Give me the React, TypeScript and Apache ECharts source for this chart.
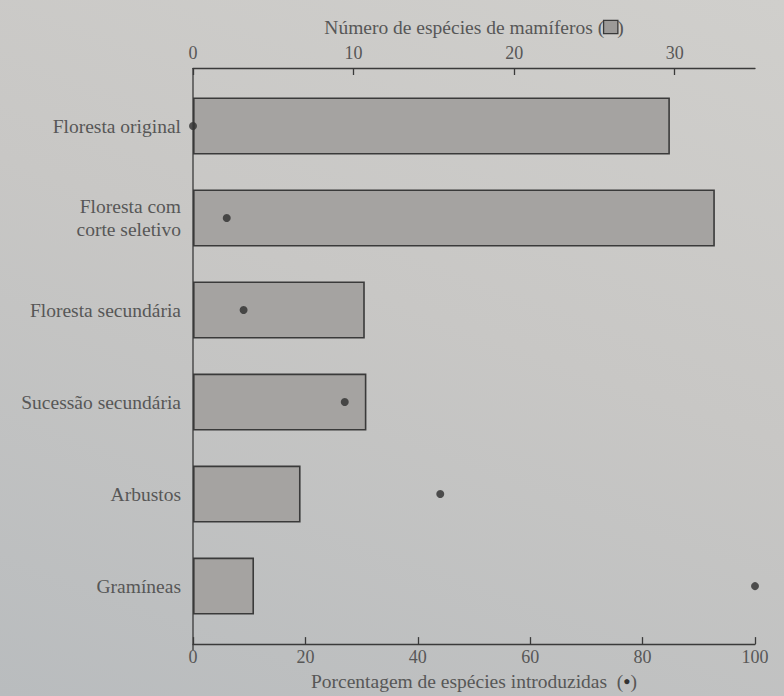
import React, { useEffect, useRef } from "react";
import * as echarts from "echarts";

const categories = [
  "Floresta original",
  "Floresta com\ncorte seletivo",
  "Floresta secundária",
  "Sucessão secundária",
  "Arbustos",
  "Gramíneas",
];
const mammalSpecies = [29.7, 32.5, 10.7, 10.8, 6.7, 3.8];
const introducedPct = [0, 6, 9, 27, 44, 100];
const topTicks = [0, 10, 20, 30];
const bottomTicks = [0, 20, 40, 60, 80, 100];

const GRID_LEFT = 193;
const GRID_RIGHT = 29;
const GRID_TOP = 80;
const GRID_BOTTOM = 58;
const AXIS_OFFSET = 12;
const W = 784;
const H = 696;

const FONT = "Liberation Serif";
const TEXT = "#575757";
const LINE = "#3a3a3a";

export default function App() {
  const ref = useRef<HTMLDivElement>(null);
  useEffect(() => {
    if (!ref.current) return;
    const chart = echarts.init(ref.current, undefined, { renderer: "svg" });
    chart.setOption({
      animation: false,
      backgroundColor: "transparent",
      textStyle: { fontFamily: FONT, color: TEXT },
      grid: { left: GRID_LEFT, right: GRID_RIGHT, top: GRID_TOP, bottom: GRID_BOTTOM },
      xAxis: [
        {
          type: "value",
          position: "top",
          offset: AXIS_OFFSET,
          min: 0,
          max: 35,
          interval: 10,
          axisLine: { show: true, lineStyle: { color: LINE, width: 1.3 } },
          axisTick: { show: true, inside: true, length: 7, customValues: topTicks, lineStyle: { color: LINE, width: 1.3 } },
          axisLabel: { customValues: topTicks, fontFamily: FONT, fontSize: 18, color: TEXT, margin: 6 },
          splitLine: { show: false },
          name: "Número de espécies de mamíferos ({box| })",
          nameLocation: "middle",
          nameGap: 31,
          nameTextStyle: {
            fontFamily: FONT,
            fontSize: 19.5,
            color: TEXT,
            rich: {
              box: { width: 13, height: 12, backgroundColor: "#9c9a98", borderColor: LINE, borderWidth: 1.3 },
            },
          },
        },
        {
          type: "value",
          position: "bottom",
          offset: AXIS_OFFSET,
          min: 0,
          max: 100,
          interval: 20,
          axisLine: { show: true, lineStyle: { color: LINE, width: 1.3 } },
          axisTick: { show: true, inside: true, length: 7, customValues: bottomTicks, lineStyle: { color: LINE, width: 1.3 } },
          axisLabel: { customValues: bottomTicks, fontFamily: FONT, fontSize: 18, color: TEXT, margin: 4 },
          splitLine: { show: false },
          name: "Porcentagem de espécies introduzidas  ({dot|●})",
          nameLocation: "middle",
          nameGap: 22,
          nameTextStyle: {
            fontFamily: FONT,
            fontSize: 19.5,
            color: TEXT,
            rich: { dot: { fontSize: 12, color: "#333" } },
          },
        },
      ],
      yAxis: {
        type: "category",
        inverse: true,
        data: categories,
        axisLine: { show: false },
        axisTick: { show: false },
        axisLabel: { fontFamily: FONT, fontSize: 19.5, color: TEXT, margin: 12, lineHeight: 23 },
        splitLine: { show: false },
      },
      graphic: [
        {
          type: "line",
          shape: { x1: GRID_LEFT, y1: GRID_TOP - AXIS_OFFSET, x2: GRID_LEFT, y2: H - GRID_BOTTOM + AXIS_OFFSET },
          style: { stroke: LINE, lineWidth: 1.3 },
          z: 10,
        },
      ],
      series: [
        {
          type: "bar",
          xAxisIndex: 0,
          yAxisIndex: 0,
          data: mammalSpecies,
          barWidth: "62%",
          itemStyle: { color: "#a5a3a1", borderColor: LINE, borderWidth: 1.6 },
          z: 2,
        },
        {
          type: "scatter",
          xAxisIndex: 1,
          yAxisIndex: 0,
          data: introducedPct.map((v, i) => [v, i]),
          symbolSize: 8,
          itemStyle: { color: "#2e2e2e" },
          z: 5,
        },
      ],
    });
    return () => chart.dispose();
  }, []);
  return (
    <div
      style={{
        position: "fixed",
        left: 0,
        top: 0,
        width: W,
        height: H,
        background: "linear-gradient(200deg, #d0cfcc 0%, #c8c7c5 45%, #b9bcbe 100%)",
      }}
    >
      <div ref={ref} style={{ width: W, height: H }} />
    </div>
  );
}
